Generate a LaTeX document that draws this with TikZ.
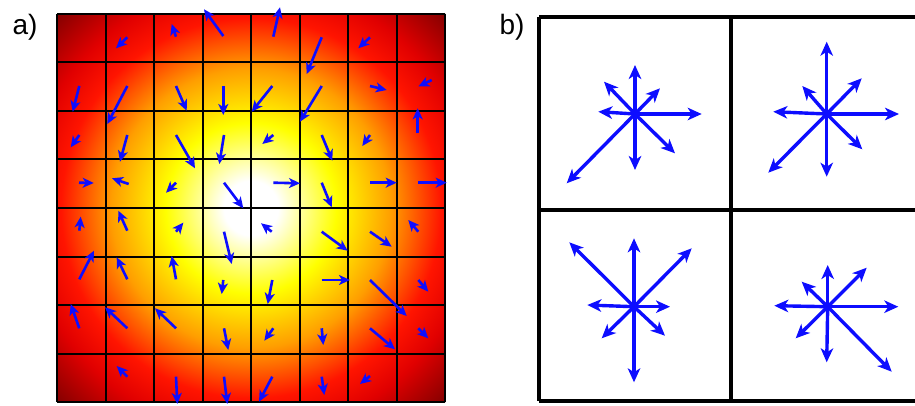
\documentclass[tikz,border=0pt]{standalone}
\usepackage{fontspec}
\setmainfont{Liberation Sans}
\usetikzlibrary{arrows.meta}
\definecolor{hotwhite}{rgb}{1,1,1}
\definecolor{hotyellow}{rgb}{1,1,0}
\definecolor{hotorange}{rgb}{1,0.62,0}
\definecolor{hotred}{rgb}{1,0.08,0}
\definecolor{hotred2}{rgb}{0.88,0,0}
\definecolor{hotdark}{rgb}{0.48,0,0}
\definecolor{arrowblue}{rgb}{0.05,0.05,1}
\pgfdeclareradialshading{heat}{\pgfpointorigin}{color(0bp)=(hotwhite); color(3.5bp)=(hotwhite); color(11bp)=(hotyellow); color(18bp)=(hotorange); color(24.5bp)=(hotred); color(29bp)=(hotred2); color(36bp)=(hotdark); color(50bp)=(hotdark)}
\tikzset{
  gridline/.style={draw=black, line width=2pt},
  boxline/.style={draw=black, line width=3.2pt},
  fieldarrow/.style={draw=arrowblue, line width=2.6pt, -{Stealth[length=11pt,width=10pt,inset=3pt]}},
  stararrow/.style={draw=arrowblue, line width=3.4pt, -{Stealth[length=14pt,width=12.5pt,inset=4pt]}},
  panellabel/.style={font=\fontsize{28}{32}\selectfont, inner sep=0pt}
}
\begin{document}
\begin{tikzpicture}[x=1pt,y=-1pt]
\useasboundingbox (0,0) rectangle (915,406);
% ---------- panel a ----------
\node[panellabel] (labela) at (25,27) {a)};
\shade[shading=heat] (57,14) rectangle (445,402);
\foreach \i in {0,...,8} {
  \draw[gridline] ({57+48.5*\i},14) -- ({57+48.5*\i},402);
  \draw[gridline] (57,{14+48.5*\i}) -- (445,{14+48.5*\i});
}
\foreach \ax/\ay/\bx/\by in {
  127.3/37.3/116/48.3, 176/36.7/171.7/24, 223.3/36/204/9.3, 273.3/36.7/280/7.3,
  321.7/37.3/306.7/74, 370/37.3/358.3/48.3,
  79.3/86/72.7/111.7, 127.3/86/107.3/124, 176/86/186.7/110.7, 223.3/86/223.3/115,
  272.3/86/251.7/111.7, 321.7/86/300/121.7, 370/86/386.7/90, 431.7/80/418.3/86.5,
  79.3/135/70.7/147.3, 127.3/135/120/161.7, 176/135/195/168.3, 224/135/219.3/164,
  273.3/135/262.3/144, 321.7/135/332.3/160.7, 370/135/362.3/146, 417.7/133.3/417.7/108.3,
  79/182.7/93.7/183, 128.7/184/112/178.3, 176/182.7/166/192.7, 224/182.7/243.3/208.3,
  273.3/182.7/300/183.3, 321.7/182.7/331.7/207.3, 370/182.7/396.7/182.7, 418.3/182.7/446.7/182.7,
  79.3/230.7/80.7/216.7, 127.3/230.7/118.3/210.7, 176/231.7/183.3/222.7, 224/231.7/231.7/264,
  271.7/231.7/261/223.3, 321.7/231.7/347.7/250.7, 370/231.7/391.7/246.7, 418.3/231.7/408.3/220,
  79.3/279.3/94/250.7, 127.3/279.3/116.7/257.3, 176/279.3/171.7/256, 223.3/280/221.7/294,
  272.3/280/267.7/304, 321.7/280/350/280, 370/280/406.7/316, 418.3/280/428.3/291.7,
  79.3/328.3/70.7/304, 127.3/328.3/105/307.3, 176/328.3/155/308.3, 224/328.3/228.3/350,
  273.3/328.3/264.3/340.7, 321.7/328.3/323.3/345, 370/328.3/395/349.3, 418.3/328.3/428.3/338.3,
  127.3/376.7/116.7/366, 176/376.7/177.3/404, 224/376.7/227.3/404,
  272.3/376.7/259/401.7, 321.7/376.7/324.3/395, 370/376/360/384} {
  \coordinate (t) at (\ax,\ay);
  \coordinate (h) at (\bx,\by);
  \draw[fieldarrow] (t) -- (h);
}
% ---------- panel b ----------
\node[panellabel] (labelb) at (512,27) {b)};
\draw[boxline] (539,17) -- (925,17);
\draw[boxline] (539,401) -- (925,401);
\draw[boxline] (539,17) -- (539,401);
\draw[boxline] (731,17) -- (731,401);
\draw[boxline] (539,210) -- (925,210);
\draw[boxline] (923,17) -- (923,401);
% star centres
\coordinate (s1) at (635,114);
\coordinate (s2) at (826.7,114);
\coordinate (s3) at (634,306.7);
\coordinate (s4) at (827.7,306.7);
\foreach \x/\y in {635/65, 660/88.3, 701.7/114, 675/153.3, 635/170, 566.7/183.3, 598.3/111.7, 604/81.7} {
  \coordinate (e) at (\x,\y); \draw[stararrow] (s1) -- (e);
}
\foreach \x/\y in {826.7/41.7, 861.7/78.3, 899/114, 862.3/149.3, 826.7/176.7, 768.3/172.7, 773.3/111.7, 802.3/86} {
  \coordinate (e) at (\x,\y); \draw[stararrow] (s2) -- (e);
}
\foreach \x/\y in {634/238.3, 691.7/248.3, 670/306.7, 665/335.7, 634/382.3, 601.7/338.3, 587.3/305, 569.3/242.3} {
  \coordinate (e) at (\x,\y); \draw[stararrow] (s3) -- (e);
}
\foreach \x/\y in {827.7/265, 866.7/267.7, 898.3/306.7, 891.7/371.7, 826.7/362.3, 795.7/338.3, 774.3/305.7, 801.7/281.7} {
  \coordinate (e) at (\x,\y); \draw[stararrow] (s4) -- (e);
}
\end{tikzpicture}
\end{document}
